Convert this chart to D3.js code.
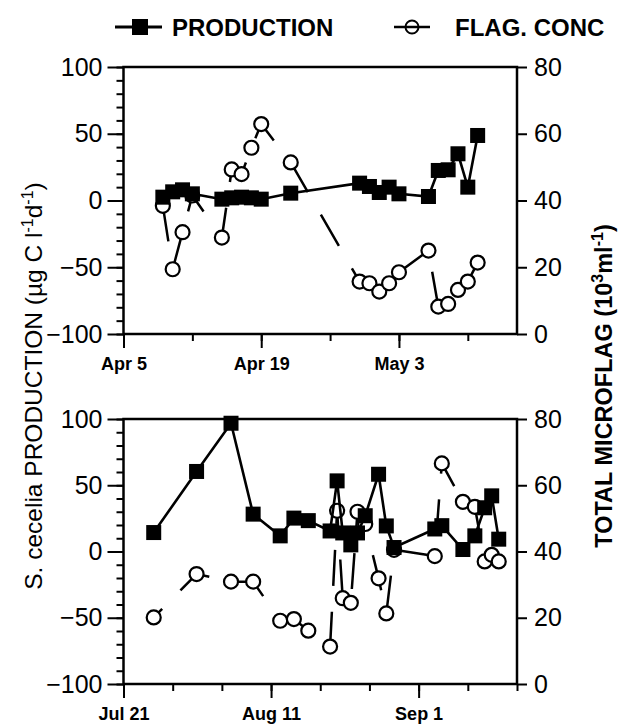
<!DOCTYPE html>
<html><head><meta charset="utf-8">
<script src="https://cdn.jsdelivr.net/npm/d3@7"></script>
<style>
body{margin:0;background:#fff}
svg{display:block}
text{font-family:"Liberation Sans",Arial,Helvetica,sans-serif;fill:#000}
</style>
</head><body>
<svg id="chart" width="621" height="728"></svg>
<script>
// ---------- DATA ----------
// Top panel: days after Apr 5
const topDays = [4,5,6,7,10,11,12,13,14,17,24,25,26,27,28,31,32,33,34,35,36];
const topProduction = [2.5,6.5,8,5,1,2,2.5,2,1,5.5,13,10.5,6,10,5,3,22.5,23,35,10,48.7];
const topFlag = [38.4,19.4,30.5,41.5,28.9,49.3,47.9,55.8,62.9,51.4,15.7,15.2,12.7,15.2,18.5,25,8.2,9,13.2,15.7,21.4];
const topTickDays = [0,14,28];
const topTickLabels = ["Apr 5","Apr 19","May 3"];

// Bottom panel: days after Jul 21
const botDays = [4.3,10.4,15.3,18.45,22.3,24.25,26.3,29.4,30.4,31.2,32.35,33.3,34.4,36.3,37.4,38.5,44.3,45.3,48.3,50.0,51.4,52.4,53.4];
const botProduction = [14.3,60.4,96.8,28.2,11.8,25.2,23.3,15.5,53.3,14,5,14,27,58.3,19.3,3,17,19.5,1.5,11.8,33,42,9.3];
const botFlag = [20.1,33.2,30.9,30.9,19.1,19.6,16.1,11.3,52.3,25.9,24.5,52,48.3,31.9,21.3,40.5,38.6,66.6,55,53.5,37,39,37];
const botTickDays = [0,21,42];
const botTickLabels = ["Jul 21","Aug 11","Sep 1"];

const prodTicks = [-100,-50,0,50,100];
const flagTicks = [0,20,40,60,80];

// ---------- LAYOUT ----------
const svg = d3.select("#chart");
const panels = [
  {days: topDays, prod: topProduction, flag: topFlag, tickDays: topTickDays, tickLabels: topTickLabels,
   span: 40, left: 123.5, right: 517, top: 67, bottom: 334, dashOffset: 0},
  {days: botDays, prod: botProduction, flag: botFlag, tickDays: botTickDays, tickLabels: botTickLabels,
   span: 56, left: 123.5, right: 517, top: 419, bottom: 684, dashOffset: 24}
];

panels.forEach(p => {
  const x = d3.scaleLinear().domain([0, p.span]).range([p.left, p.right]);
  const yL = d3.scaleLinear().domain([-100, 100]).range([p.bottom, p.top]);
  const yR = d3.scaleLinear().domain([0, 80]).range([p.bottom, p.top]);
  const g = svg.append("g");

  g.append("g").attr("transform", `translate(${p.left},0)`)
    .call(d3.axisLeft(yL).tickValues(d3.range(-100, 101, 10)).tickSize(7).tickFormat(""))
    .call(a => a.select(".domain").remove())
    .call(a => a.selectAll("line").attr("stroke-width", 2));
  g.append("g").attr("transform", `translate(${p.left},0)`)
    .call(d3.axisLeft(yL).tickValues(prodTicks).tickSize(16).tickPadding(5))
    .call(a => a.select(".domain").remove())
    .call(a => a.selectAll("line").attr("stroke-width", 2))
    .call(a => a.selectAll("text").attr("font-size", 25).attr("font-family", "Liberation Sans, Arial, sans-serif").attr("fill", "#000"));
  g.append("g").attr("transform", `translate(${p.right},0)`)
    .call(d3.axisRight(yR).tickValues(flagTicks).tickSize(10).tickPadding(7))
    .call(a => a.select(".domain").remove())
    .call(a => a.selectAll("line").attr("stroke-width", 2))
    .call(a => a.selectAll("text").attr("font-size", 25).attr("font-family", "Liberation Sans, Arial, sans-serif").attr("fill", "#000"));
  g.append("g").attr("transform", `translate(0,${p.bottom})`)
    .call(d3.axisBottom(x).tickValues(d3.range(0, p.span + 0.01, 7)).tickSize(7).tickFormat(""))
    .call(a => a.select(".domain").remove())
    .call(a => a.selectAll("line").attr("stroke-width", 2));
  g.append("g").attr("transform", `translate(0,${p.bottom})`)
    .call(d3.axisBottom(x).tickValues(p.tickDays).tickSize(14)
      .tickFormat((d, i) => p.tickLabels[i]))
    .call(a => a.select(".domain").remove())
    .call(a => a.selectAll("line").attr("stroke-width", 2))
    .call(a => a.selectAll("text").attr("font-size", 18).attr("font-weight", "bold")
      .attr("font-family", "Liberation Sans, Arial, sans-serif").attr("fill", "#000")
      .attr("y", 36).attr("dy", 0));

  g.append("rect").attr("x", p.left).attr("y", p.top)
    .attr("width", p.right - p.left).attr("height", p.bottom - p.top)
    .attr("fill", "none").attr("stroke", "#000").attr("stroke-width", 2.5);

  const pts = p.days.map((d, i) => ({d, prod: p.prod[i], flag: p.flag[i]}));

  g.append("path").datum(pts)
    .attr("d", d3.line().x(v => x(v.d)).y(v => yR(v.flag)))
    .attr("fill", "none").attr("stroke", "#000").attr("stroke-width", 2.5)
    .attr("stroke-dasharray", "36,26").attr("stroke-dashoffset", p.dashOffset);
  g.selectAll(".fc").data(pts).join("circle")
    .attr("cx", v => x(v.d)).attr("cy", v => yR(v.flag)).attr("r", 7)
    .attr("fill", "#fff").attr("stroke", "#000").attr("stroke-width", 2.2);

  g.append("path").datum(pts)
    .attr("d", d3.line().x(v => x(v.d)).y(v => yL(v.prod)))
    .attr("fill", "none").attr("stroke", "#000").attr("stroke-width", 2.6);
  g.selectAll(".ps").data(pts).join("rect")
    .attr("x", v => x(v.d) - 7.5).attr("y", v => yL(v.prod) - 7.5)
    .attr("width", 15).attr("height", 15).attr("fill", "#000");
});

// ---------- LEGEND ----------
const leg = svg.append("g");
leg.append("line").attr("x1", 115).attr("x2", 162).attr("y1", 27).attr("y2", 27)
  .attr("stroke", "#000").attr("stroke-width", 2.8);
leg.append("rect").attr("x", 132).attr("y", 19).attr("width", 16).attr("height", 16).attr("fill", "#000");
leg.append("text").attr("x", 172).attr("y", 35.5).attr("font-size", 24).attr("font-weight", "bold").text("PRODUCTION");
leg.append("line").attr("x1", 394).attr("x2", 430).attr("y1", 27).attr("y2", 27)
  .attr("stroke", "#000").attr("stroke-width", 2.4);
leg.append("circle").attr("cx", 412).attr("cy", 27).attr("r", 6.5).attr("fill", "none")
  .attr("stroke", "#000").attr("stroke-width", 2);
leg.append("text").attr("x", 455).attr("y", 35.5).attr("font-size", 24).attr("font-weight", "bold").text("FLAG. CONC");

// ---------- AXIS TITLES ----------
const lt = svg.append("text").attr("transform", "translate(42,386) rotate(-90)")
  .attr("text-anchor", "middle").attr("font-size", 24.5);
lt.append("tspan").text("S. cecelia PRODUCTION (µg C l");
lt.append("tspan").attr("dy", -9).attr("font-size", 16).text("-1");
lt.append("tspan").attr("dy", 9).text("d");
lt.append("tspan").attr("dy", -9).attr("font-size", 16).text("-1");
lt.append("tspan").attr("dy", 9).text(")");

const rt = svg.append("text").attr("transform", "translate(612,386) rotate(-90)")
  .attr("text-anchor", "middle").attr("font-size", 23.5).attr("font-weight", "bold");
rt.append("tspan").text("TOTAL MICROFLAG (10");
rt.append("tspan").attr("dy", -9).attr("font-size", 16).text("3");
rt.append("tspan").attr("dy", 9).text("ml");
rt.append("tspan").attr("dy", -9).attr("font-size", 16).text("-1");
rt.append("tspan").attr("dy", 9).text(")");
</script>
</body></html>
